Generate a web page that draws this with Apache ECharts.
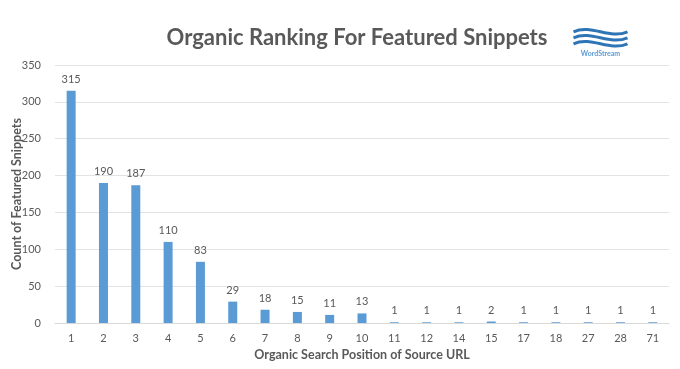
<!DOCTYPE html>
<html><head><meta charset="utf-8">
<script src="https://cdn.jsdelivr.net/npm/echarts@6/dist/echarts.min.js"></script>
<style>html,body{margin:0;padding:0;background:#fff}#c{width:680px;height:369px}</style>
</head><body><div id="c"></div>
<script>
const categories = ['1','2','3','4','5','6','7','8','9','10','11','12','14','15','17','18','27','28','71'];
const counts = [315,190,187,110,83,29,18,15,11,13,1,1,1,2,1,1,1,1,1];
const yTicks = [0,50,100,150,200,250,300,350];

const chart = echarts.init(document.getElementById('c'));
const txt = '#595959';
chart.setOption({
  animation:false,
  title:{text:'Organic Ranking For Featured Snippets',left:352,top:22,textAlign:'center',
    textStyle:{fontFamily:'Lato',fontWeight:'bold',fontSize:22,color:txt}},
  grid:{left:55,right:11,top:65,bottom:46,containLabel:false,outerBoundsMode:'none'},
  xAxis:{type:'category',data:categories,
    name:'Organic Search Position of Source URL',nameLocation:'middle',nameGap:24,
    nameTextStyle:{fontFamily:'Lato',fontWeight:'bold',fontSize:12.5,color:txt},
    axisLine:{lineStyle:{color:'#d9d9d9'}},axisTick:{show:false},
    axisLabel:{color:txt,fontFamily:'Lato',fontSize:11,margin:10}},
  yAxis:{type:'value',min:yTicks[0],max:yTicks[yTicks.length-1],interval:50,
    name:'Count of Featured Snippets',nameLocation:'middle',nameGap:32,nameMoveOverlap:false,
    nameTextStyle:{fontFamily:'Lato',fontWeight:'bold',fontSize:12.5,color:txt},
    axisLabel:{color:txt,fontFamily:'Lato',fontSize:11,margin:14},
    splitLine:{lineStyle:{color:'#e3e3e3'}}},
  series:[{type:'bar',data:counts,barWidth:9,
    itemStyle:{color:'#5b9bd5'},
    label:{show:true,position:'top',distance:6,color:txt,fontFamily:'Lato',fontSize:11}}],
  graphic:[
    {type:'group',left:571,top:27,children:[
      {type:'bezierCurve',shape:{x1:0,y1:4,x2:54,y2:4,cpx1:18,cpy1:-4,cpx2:36,cpy2:12},style:{stroke:'#2e75b6',lineWidth:3,fill:null}},
      {type:'bezierCurve',shape:{x1:0,y1:10,x2:54,y2:10,cpx1:18,cpy1:2,cpx2:36,cpy2:18},style:{stroke:'#2e75b6',lineWidth:3,fill:null}},
      {type:'bezierCurve',shape:{x1:0,y1:16,x2:54,y2:16,cpx1:18,cpy1:8,cpx2:36,cpy2:24},style:{stroke:'#2e75b6',lineWidth:3,fill:null}},
      {type:'text',style:{x:27,y:22,text:'WordStream',textAlign:'center',fill:'#5b9bd5',font:'bold 7px Lato'}}
    ]}
  ]
});
</script></body></html>
